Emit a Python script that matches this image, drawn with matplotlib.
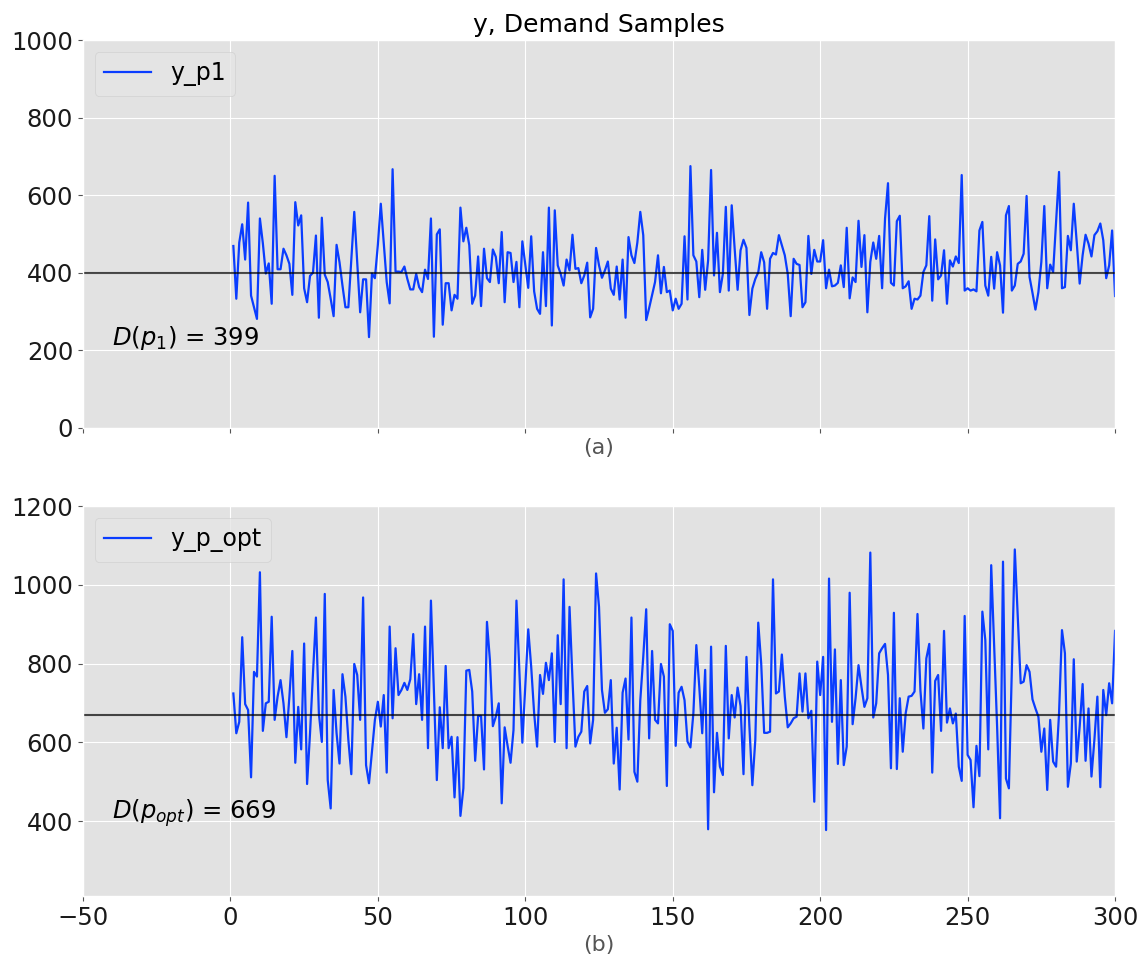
import numpy as np
import matplotlib
matplotlib.use("Agg")
import matplotlib.pyplot as plt

plt.style.use("ggplot")

# demand samples (t = 1..300)
y_p1 = [
    469, 333, 478, 525, 434, 581, 341, 311, 281, 540, 476, 398, 424, 320, 650, 409, 409, 462, 445, 423,
    343, 582, 522, 548, 360, 324, 392, 400, 496, 284, 542, 395, 376, 333, 288, 472, 427, 367, 311, 311,
    436, 557, 427, 298, 383, 383, 234, 398, 386, 472, 578, 478, 376, 321, 667, 403, 403, 402, 416, 384,
    357, 357, 397, 363, 350, 408, 384, 540, 235, 499, 512, 266, 373, 373, 303, 343, 333, 568, 481, 516,
    471, 320, 341, 442, 314, 462, 386, 376, 460, 441, 373, 505, 324, 453, 451, 376, 428, 311, 481, 421,
    361, 494, 352, 307, 294, 453, 314, 568, 264, 561, 419, 397, 367, 434, 406, 498, 410, 412, 373, 393,
    426, 285, 307, 464, 419, 387, 406, 429, 359, 343, 416, 331, 434, 284, 492, 445, 425, 478, 557, 497,
    278, 309, 343, 376, 445, 347, 415, 350, 354, 303, 333, 307, 320, 494, 331, 675, 445, 429, 337, 459,
    356, 432, 665, 393, 503, 350, 397, 570, 354, 574, 462, 356, 458, 485, 464, 291, 359, 384, 401, 453,
    427, 307, 436, 451, 447, 497, 471, 445, 397, 288, 436, 423, 420, 311, 324, 495, 397, 459, 429, 429,
    484, 360, 408, 365, 367, 374, 419, 363, 516, 334, 388, 376, 534, 415, 497, 298, 428, 478, 436, 495,
    360, 540, 631, 374, 367, 533, 547, 360, 365, 378, 307, 333, 331, 341, 402, 419, 546, 328, 486, 383,
    393, 458, 320, 432, 416, 442, 425, 652, 354, 360, 354, 357, 352, 509, 531, 367, 341, 441, 359, 453,
    419, 297, 548, 572, 354, 367, 423, 429, 449, 598, 389, 348, 305, 350, 428, 572, 360, 421, 402, 531,
    660, 360, 363, 495, 458, 578, 479, 372, 445, 498, 475, 442, 497, 507, 527, 484, 386, 419, 509, 340,
]

y_p_opt = [
    724, 623, 652, 867, 697, 682, 511, 779, 767, 1032, 629, 699, 703, 919, 657, 716, 758, 699, 613, 716,
    832, 548, 690, 582, 851, 494, 623, 775, 917, 673, 601, 977, 504, 432, 733, 623, 546, 773, 716, 606,
    519, 799, 771, 657, 968, 542, 496, 576, 657, 703, 640, 720, 523, 894, 661, 839, 720, 733, 751, 733,
    760, 875, 697, 773, 657, 894, 585, 960, 733, 504, 689, 585, 794, 585, 614, 460, 613, 413, 483, 782,
    784, 729, 553, 667, 667, 531, 906, 809, 641, 665, 699, 445, 638, 591, 548, 631, 960, 779, 599, 741,
    887, 792, 674, 589, 771, 723, 802, 758, 826, 601, 872, 697, 1014, 585, 944, 760, 589, 614, 627, 729,
    743, 597, 657, 1029, 944, 733, 675, 684, 758, 546, 637, 480, 726, 762, 607, 917, 525, 500, 707, 817,
    938, 610, 832, 657, 648, 799, 767, 489, 900, 883, 591, 726, 741, 707, 602, 587, 674, 847, 741, 623,
    784, 379, 843, 473, 624, 538, 517, 845, 610, 720, 663, 739, 692, 519, 817, 640, 491, 606, 904, 800,
    624, 624, 627, 1014, 724, 729, 823, 716, 638, 648, 661, 665, 775, 678, 775, 661, 680, 449, 805, 720,
    817, 377, 1016, 652, 836, 545, 758, 542, 589, 980, 646, 712, 796, 741, 690, 712, 1082, 663, 699, 826,
    839, 850, 771, 534, 929, 532, 712, 576, 674, 716, 718, 729, 926, 731, 635, 813, 850, 523, 756, 771,
    629, 883, 650, 686, 648, 673, 538, 502, 921, 568, 555, 435, 591, 514, 932, 860, 582, 1050, 843, 640,
    407, 1059, 508, 483, 792, 1090, 919, 750, 754, 796, 779, 709, 686, 665, 576, 635, 479, 657, 551, 538,
    673, 885, 826, 487, 546, 811, 551, 640, 748, 553, 686, 513, 607, 716, 486, 733, 669, 750, 699, 883,
]

D_p1 = 399
D_p_opt = 669

t = np.arange(1, len(y_p1) + 1)
line_color = "#0a3dff"

fig = plt.figure(figsize=(11.46, 9.55), dpi=100)
ax1 = fig.add_axes([0.0724, 0.552, 0.9006, 0.406])
ax2 = fig.add_axes([0.0724, 0.062, 0.9006, 0.408], sharex=ax1)

for ax in (ax1, ax2):
    ax.set_facecolor("#e2e2e2")
    ax.tick_params(labelsize=17.5, labelcolor="#1a1a1a", color="#555555")

# (a)
ax1.plot(t, y_p1, color=line_color, lw=1.6, label="y_p1")
ax1.axhline(D_p1, color="black", alpha=0.7, lw=1.5)
ax1.text(-40, 232, r"$D(p_1)$ = %d" % D_p1, fontsize=17.5, va="center")
ax1.set_ylim(0, 1000)
ax1.set_xlim(-50, 300)
ax1.set_title("y, Demand Samples", fontsize=18, color="black")
ax1.set_xlabel("(a)", fontsize=16, color="#555555")
ax1.tick_params(labelbottom=False)
ax1.legend(loc="upper left", fontsize=17)

# (b)
ax2.plot(t, y_p_opt, color=line_color, lw=1.6, label="y_p_opt")
ax2.axhline(D_p_opt, color="black", alpha=0.7, lw=1.5)
ax2.text(-40, 420, r"$D(p_{opt})$ = %d" % D_p_opt, fontsize=17.5, va="center")
ax2.set_ylim(210, 1200)
ax2.set_yticks([400, 600, 800, 1000, 1200])
ax2.set_xlabel("(b)", fontsize=16, color="#555555")
ax2.legend(loc="upper left", fontsize=17)

fig.savefig("out.png", dpi=100)
